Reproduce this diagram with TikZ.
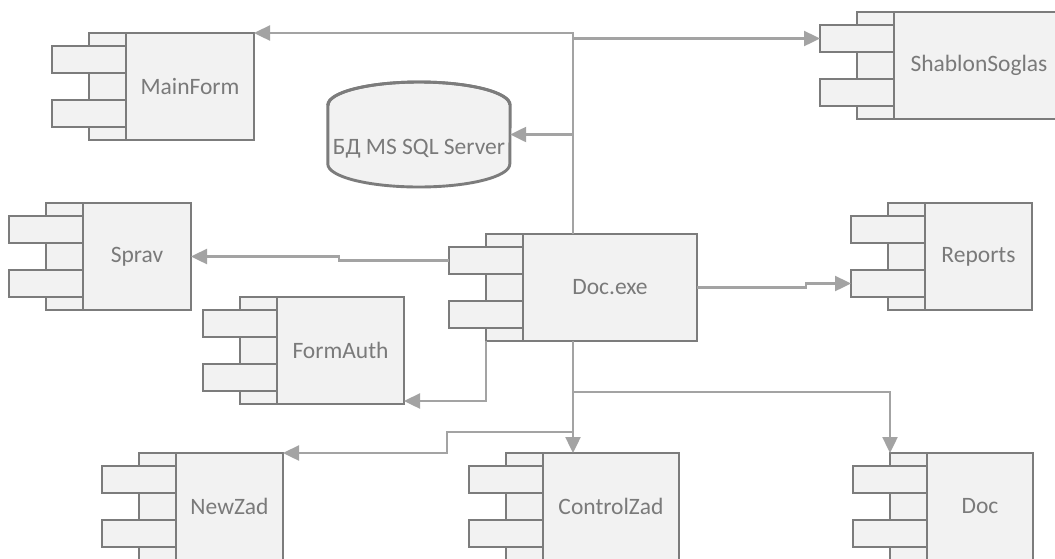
\documentclass[tikz,border=0pt]{standalone}
\usepackage{fontspec}
\setmainfont{Carlito}
\usetikzlibrary{arrows.meta,calc}

\definecolor{boxline}{HTML}{7C7C7C}
\definecolor{boxfill}{HTML}{F2F2F2}
\definecolor{wire}{HTML}{A3A3A3}
\definecolor{labelgray}{HTML}{7A7A7A}

\tikzset{
  part/.style={draw=boxline, fill=boxfill, line width=2.9pt, inner sep=0pt, outer sep=0pt},
  mainbox/.style={part, minimum height=107pt, font=\fontsize{23.5}{27}\selectfont, text=labelgray},
  stripbox/.style={part, minimum width=37pt, minimum height=107pt},
  tabbox/.style={part, minimum width=74pt, minimum height=27pt},
  wireline/.style={draw=wire, line width=2.4pt},
  arr/.style={wireline, -{Triangle[length=16pt,width=15pt]}},
  dbtext/.style={font=\fontsize{23.5}{27}\selectfont, text=labelgray, inner sep=0pt}
}

% component symbol: name, left edge of body, top edge, body width, label
\newcommand\component[5]{%
  \node[mainbox, minimum width=#4pt, anchor=north west] (#1) at (#2,#3) {#5};
  \node[stripbox, anchor=north east] (#1-s) at (#1.north west) {};
  \node[tabbox, anchor=north east] (#1-t1) at ([yshift=-13pt]#1.north west) {};
  \node[tabbox, anchor=south east] (#1-t2) at ([yshift=13pt]#1.south west) {};
}

\begin{document}
\begin{tikzpicture}[x=1pt, y=-1pt]
  \useasboundingbox (0,0) rectangle (1055,558);
  \fill[white] (0,0) rectangle (1055,558);
  \clip (0,0) rectangle (1055,558);

  % components
  \component{mainform}{126}{33}{128}{MainForm}
  \component{shablon}{894}{12}{170}{ShablonSoglas}
  \component{sprav}{83}{203}{108}{Sprav}
  \component{formauth}{277}{297}{127}{FormAuth}
  \component{docexe}{523}{234}{174}{Doc.exe}
  \component{reports}{925}{203}{107}{Reports}
  \component{newzad}{176}{453}{107}{NewZad}
  \component{controlzad}{543}{453}{136}{ControlZad}
  \component{doc}{927}{453}{106}{Doc}

  % database cylinder
  \node[minimum width=182pt, minimum height=105pt, inner sep=0pt] (db) at (419,134.5) {};
  \path[part] (db.west |- 0,105) -- (db.west |- 0,164)
     arc[start angle=180, end angle=360, x radius=91, y radius=-23]
     -- (db.east |- 0,105)
     arc[start angle=0, end angle=180, x radius=91, y radius=-23] -- cycle;
  \draw[boxline, line width=2.9pt] (db.west |- 0,105)
     arc[start angle=180, end angle=360, x radius=91, y radius=23];
  \node[dbtext] (dblabel) at (419,149) {БД MS SQL Server};

  % connectors
  \coordinate (up) at ([xshift=50pt]docexe.north west);
  \coordinate (down) at ([xshift=50pt]docexe.south west);
  \draw[arr] (up) |- (mainform.north east);
  \draw[arr] (up) |- (shablon-t1.west);
  \draw[arr] (up) |- (db.east);
  \draw[arr] (docexe-t1.west) -- ++(-110,0) |- (sprav.east);
  \draw[arr] (docexe-s.south west) |- ([yshift=3pt]formauth.south east);
  \draw[arr] (docexe.east) -- ++(109,0) |- (reports-t2.west);
  \draw[arr] (down) -- (down |- controlzad.north);
  \draw[arr] (down) -- ++(0,51) -| (doc-s.north west);
  \draw[arr] (down) -- ++(0,91) -- ++(-126,0) |- (newzad.north east);
\end{tikzpicture}
\end{document}
